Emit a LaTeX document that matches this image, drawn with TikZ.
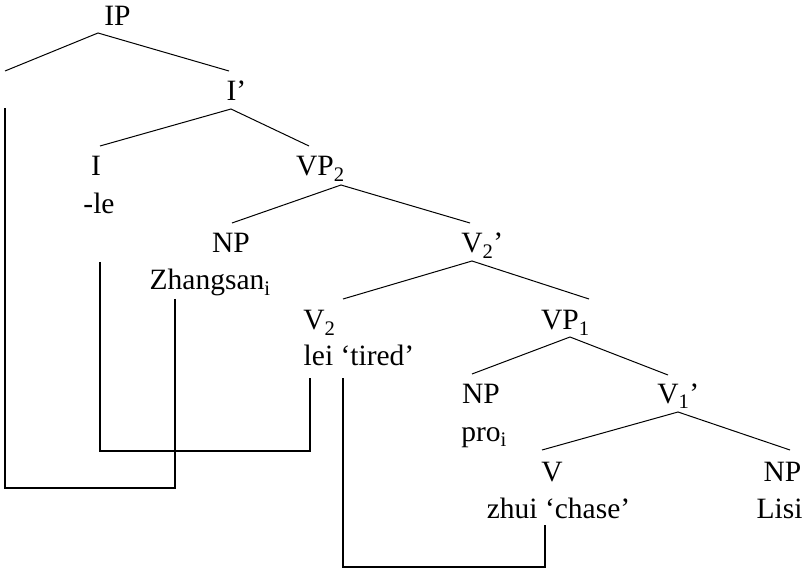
\documentclass[tikz,border=0pt]{standalone}
\usepackage{fontspec}
\setmainfont{Liberation Serif}
\tikzset{
  cat/.style={anchor=base,inner sep=0pt,font=\fontsize{29.5}{30}\selectfont},
  branch/.style={line width=1pt},
  trace/.style={line width=2pt},
}

\begin{document}
\begin{tikzpicture}[x=1pt,y=-1pt]
  \useasboundingbox (0,0) rectangle (806,569);
  % category labels and words
  \node[cat] (IP) at (117.5,26) {IP};
  \node[cat] (Ibar) at (231.5,101) {I\rlap{’}};
  \node[cat] (I) at (96,176) {I};
  \node[cat] (le) at (99,214) {-le};
  \node[cat] (VP2) at (315,176) {VP\rlap{\textsubscript{2}}};
  \node[cat] (NPa) at (231,253) {NP};
  \node[cat] (Zhangsan) at (207,290) {Zhangsan\rlap{\textsubscript{i}}};
  \node[cat] (Vbar2) at (472,253) {V\rlap{\textsubscript{2}’}};
  \node[cat] (V2) at (314,330) {V\rlap{\textsubscript{2}}};
  \node[cat] (lei) at (359,366) {lei ‘tired’};
  \node[cat] (VP1) at (560,330) {VP\rlap{\textsubscript{1}}};
  \node[cat] (NPb) at (481,403) {NP};
  \node[cat] (pro) at (481,441) {pro\rlap{\textsubscript{i}}};
  \node[cat] (Vbar1) at (668,403) {V\rlap{\textsubscript{1}’}};
  \node[cat] (V) at (552,481) {V};
  \node[cat] (zhui) at (558.5,518) {zhui ‘chase’};
  \node[cat] (NPc) at (782.5,481) {NP};
  \node[cat] (Lisi) at (779.5,518) {Lisi};
  \coordinate (spec) at (5,71);
  \coordinate (gap) at (5,108);

  % branches
  \draw[branch] (spec) -- ([xshift=-19.5pt,yshift=-7pt]IP.base)
    -- ([xshift=-2.5pt,yshift=30pt]Ibar.base);
  \draw[branch] ([xshift=4pt,yshift=30pt]I.base) -- ([xshift=-0.5pt,yshift=-8pt]Ibar.base)
    -- ([xshift=-6pt,yshift=30pt]VP2.base);
  \draw[branch] ([xshift=1pt,yshift=30pt]NPa.base) -- ([xshift=26pt,yshift=-9pt]VP2.base)
    -- ([xshift=-2pt,yshift=30pt]Vbar2.base);
  \draw[branch] ([xshift=29pt,yshift=31pt]V2.base) -- ([yshift=-8pt]Vbar2.base)
    -- ([xshift=29pt,yshift=31pt]VP1.base);
  \draw[branch] ([xshift=-9pt,yshift=29pt]NPb.base) -- ([xshift=10pt,yshift=-7pt]VP1.base)
    -- ([yshift=28pt]Vbar1.base);
  \draw[branch] ([xshift=-10pt,yshift=31pt]V.base) -- ([xshift=10pt,yshift=-9pt]Vbar1.base)
    -- ([xshift=7.5pt,yshift=31pt]NPc.base);

  % movement lines
  \draw[trace] ([xshift=-32pt,yshift=-9pt]Zhangsan.base) -- ++(0,189) -| (gap);
  \draw[trace] ([xshift=1pt,yshift=-48pt]le.base) -- ++(0,189)
    -| ([xshift=-49pt,yshift=-12pt]lei.base);
  \draw[trace] ([xshift=-16pt,yshift=-12pt]lei.base) -- ++(0,189)
    -| ([xshift=-13.5pt,yshift=-7pt]zhui.base);
\end{tikzpicture}
\end{document}
